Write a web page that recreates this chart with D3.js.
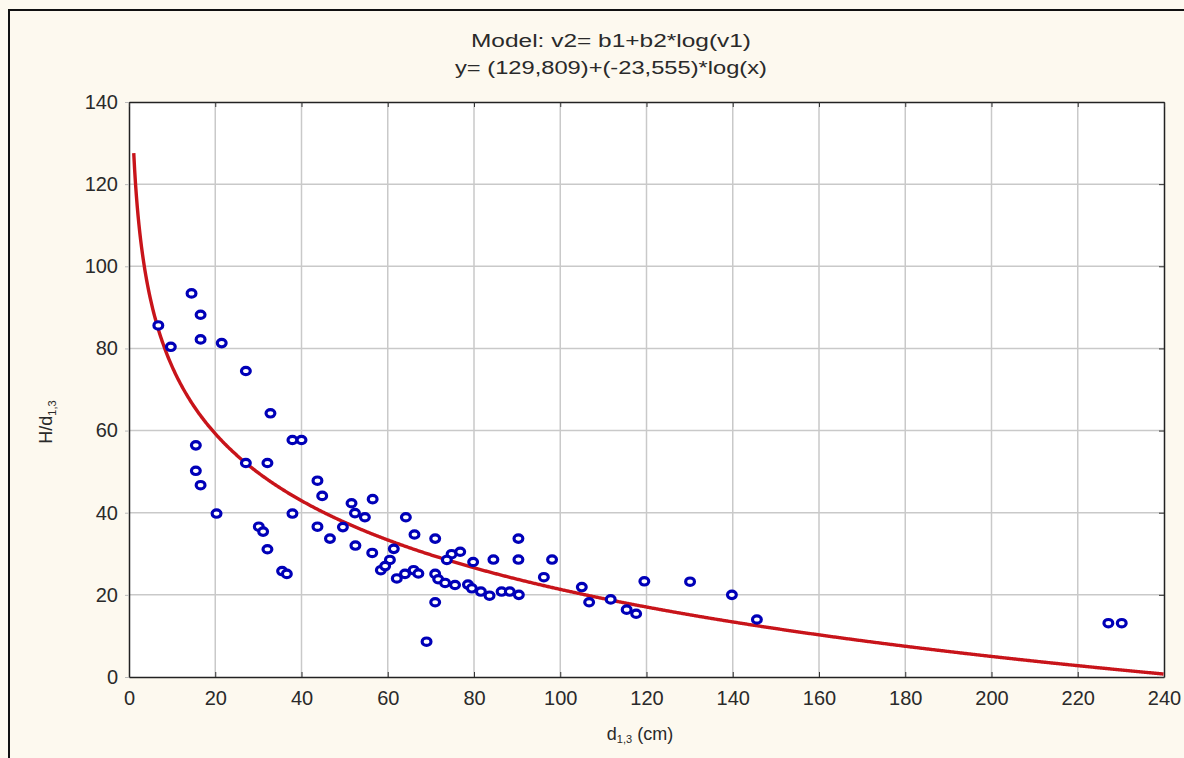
<!DOCTYPE html>
<html>
<head>
<meta charset="utf-8">
<script src="https://cdn.jsdelivr.net/npm/d3@7"></script>
<style>
  html, body { margin: 0; padding: 0; background: #fdf9ef; }
  svg { display: block; }
  text { font-family: "Liberation Sans", Arial, sans-serif; fill: #2a2a2a; }
</style>
</head>
<body>
<svg id="chart" width="1184" height="758"></svg>
<script>
// Diameter at breast height (cm) of each observed tree
const diameters = [
  14.5, 16.6, 6.8, 16.6, 21.5, 9.7, 27.1, 32.8, 37.9, 40.0,
  15.5, 27.1, 32.1, 15.5, 16.6, 20.3, 37.9, 30.1, 31.1, 32.1,
  35.5, 36.6, 43.7, 44.8, 43.7, 46.6, 49.6, 51.6, 56.5, 52.4,
  54.7, 52.5, 56.4, 61.4, 60.5, 58.4, 59.4, 64.2, 66.2, 71.0,
  62.1, 64.0, 66.0, 67.1, 71.0, 71.7, 73.3, 75.6, 74.8, 76.8,
  73.7, 71.0, 69.0, 79.8, 84.5, 90.3, 90.3, 98.1, 96.2, 78.6,
  79.5, 81.6, 83.6, 86.4, 88.3, 90.4, 105.0, 106.7, 111.7, 115.4,
  117.6, 119.5, 130.1, 139.8, 145.6, 227.1, 230.2
];
// Slenderness ratio H/d1,3 for the same trees
const slenderness = [
  93.4, 88.2, 85.6, 82.2, 81.3, 80.4, 74.5, 64.2, 57.7, 57.7,
  56.4, 52.1, 52.1, 50.2, 46.7, 39.8, 39.8, 36.6, 35.4, 31.1,
  25.8, 25.1, 47.8, 44.1, 36.6, 33.7, 36.5, 42.3, 43.3, 39.9,
  38.9, 32.0, 30.2, 31.2, 28.5, 26.0, 27.0, 38.9, 34.7, 33.7,
  24.0, 25.1, 26.0, 25.2, 25.1, 23.8, 22.9, 22.4, 29.9, 30.5,
  28.5, 18.2, 8.6, 28.0, 28.6, 33.7, 28.6, 28.6, 24.3, 22.5,
  21.6, 20.8, 19.8, 20.8, 20.8, 20.0, 21.9, 18.2, 18.9, 16.4,
  15.4, 23.3, 23.2, 20.0, 14.0, 13.1, 13.1
];
// Fitted model coefficients: v2 = b1 + b2*log(v1)
const b1 = 129.809;
const b2 = -23.555;
const xTicks = [0, 20, 40, 60, 80, 100, 120, 140, 160, 180, 200, 220, 240];
const yTicks = [0, 20, 40, 60, 80, 100, 120, 140];
const titleLines = ["Model: v2= b1+b2*log(v1)", "y= (129,809)+(-23,555)*log(x)"];
const titleWidths = [280, 312];

const svg = d3.select("#chart");
const x = d3.scaleLinear().domain([0, 240]).range([129, 1164]);
const y = d3.scaleLinear().domain([0, 140]).range([677, 102]);

// outer frame
svg.append("rect").attr("x", 9).attr("y", 10).attr("width", 1200).attr("height", 800)
  .attr("fill", "#fdf9ef").attr("stroke", "#111").attr("stroke-width", 2);

// plot area
svg.append("rect").attr("x", x(0)).attr("y", y(140))
  .attr("width", x(240) - x(0)).attr("height", y(0) - y(140)).attr("fill", "#fff");

// grid
const grid = svg.append("g").attr("stroke", "#c9c9c9").attr("stroke-width", 1.5);
grid.selectAll(".gx").data(xTicks.slice(1, -1)).join("line")
  .attr("x1", d => x(d)).attr("x2", d => x(d)).attr("y1", y(140)).attr("y2", y(0));
grid.selectAll(".gy").data(yTicks.slice(1, -1)).join("line")
  .attr("x1", x(0)).attr("x2", x(240)).attr("y1", d => y(d)).attr("y2", d => y(d));

// axes
const fmt = d3.format("d");
const xAxis = svg.append("g").attr("transform", `translate(0,${y(0)})`)
  .call(d3.axisBottom(x).tickValues(xTicks).tickFormat(fmt).tickSizeInner(-5).tickSizeOuter(0).tickPadding(14));
const yAxis = svg.append("g").attr("transform", `translate(${x(0)},0)`)
  .call(d3.axisLeft(y).tickValues(yTicks).tickFormat(fmt).tickSizeInner(4).tickSizeOuter(0).tickPadding(7));
const yAxisR = svg.append("g").attr("transform", `translate(${x(240)},0)`)
  .call(d3.axisRight(y).tickValues(yTicks).tickFormat("").tickSizeInner(-5).tickSizeOuter(0));
const xAxisT = svg.append("g").attr("transform", `translate(0,${y(140)})`)
  .call(d3.axisTop(x).tickValues(xTicks).tickFormat("").tickSizeInner(-5).tickSizeOuter(0));
[xAxis, yAxis, yAxisR, xAxisT].forEach(g => {
  g.select(".domain").attr("stroke", "#222").attr("stroke-width", 1.5);
  g.selectAll(".tick line").attr("stroke", "#333");
  g.selectAll(".tick text").attr("font-size", 20).attr("fill", "#333")
    .attr("font-family", "'Liberation Sans', Arial, sans-serif");
});
yAxis.selectAll(".tick line").attr("stroke", "#bbb");

// fitted curve
const curveX = d3.range(1.1, 240.01, 0.2);
const line = d3.line().x(d => x(d)).y(d => y(b1 + b2 * Math.log(d)));
svg.append("path").datum(curveX).attr("d", line)
  .attr("fill", "none").attr("stroke", "#c8141a").attr("stroke-width", 3.4);

// observations
svg.append("g").selectAll("ellipse").data(d3.range(diameters.length)).join("ellipse")
  .attr("cx", i => x(diameters[i])).attr("cy", i => y(slenderness[i]))
  .attr("rx", 4.4).attr("ry", 3.7)
  .attr("fill", "#fff").attr("stroke", "#0000b8").attr("stroke-width", 3.2);

// titles
svg.selectAll(".title").data(titleLines).join("text")
  .attr("x", 611).attr("y", (d, i) => 47 + i * 27)
  .attr("text-anchor", "middle").attr("font-size", 18).attr("fill", "#333")
  .attr("textLength", (d, i) => titleWidths[i]).attr("lengthAdjust", "spacingAndGlyphs")
  .text(d => d);

const xt = svg.append("text").attr("x", 640).attr("y", 740).attr("text-anchor", "middle")
  .attr("font-size", 18).attr("fill", "#333");
xt.append("tspan").text("d");
xt.append("tspan").attr("font-size", 11).attr("dy", 3).text("1,3");
xt.append("tspan").attr("dy", -3).text(" (cm)");

const yt = svg.append("text").attr("transform", "translate(52,422) rotate(-90)")
  .attr("text-anchor", "middle").attr("font-size", 18).attr("fill", "#333");
yt.append("tspan").text("H/d");
yt.append("tspan").attr("font-size", 11).attr("dy", 4).text("1,3");
</script>
</body>
</html>
